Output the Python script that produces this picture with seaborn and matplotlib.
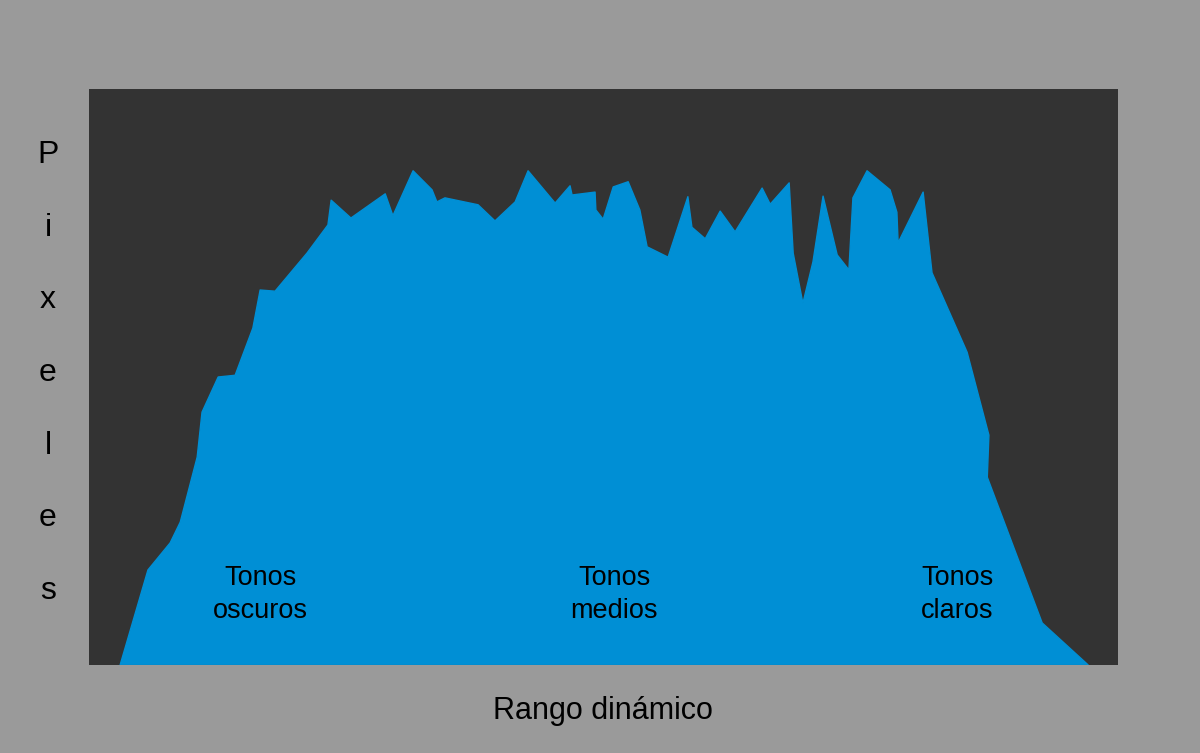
import matplotlib
matplotlib.use("Agg")
import matplotlib.pyplot as plt
import numpy as np
import pandas as pd
import seaborn as sns

# Outline of the histogram (tone 0-255, height in % of plot)
tones = [7.7, 14.6, 20.1, 22.6, 26.8, 28.0, 32.0, 36.2, 40.6, 42.4, 46.1, 54.0,
         59.2, 60.0, 64.9, 73.4, 75.3, 80.3, 85.0, 86.2, 88.2, 96.4, 100.6,
         105.6, 108.8, 115.5, 119.2, 119.7, 125.4, 125.6, 127.4, 129.9, 133.6,
         136.5, 138.3, 143.5, 148.4, 149.4, 152.7, 156.4, 160.1, 166.8, 168.8,
         173.5, 174.5, 176.9, 179.4, 181.9, 185.4, 188.3, 189.3, 192.8, 198.5,
         200.2, 200.5, 206.7, 208.9, 217.6, 223.0, 222.6, 236.2, 247.6]
counts = [0.0, 16.5, 21.2, 24.8, 36.1, 43.9, 50.0, 50.3, 58.5, 65.1, 64.9, 71.5,
          76.4, 80.7, 77.6, 81.8, 78.0, 85.8, 82.5, 80.4, 81.1, 79.9, 77.1,
          80.4, 85.8, 80.2, 83.2, 81.6, 82.1, 79.0, 77.4, 83.0, 83.9,
          79.0, 72.6, 70.8, 81.3, 76.0, 74.0, 78.8, 75.2, 82.8, 80.0,
          83.7, 71.5, 62.8, 70.0, 81.4, 71.2, 68.6, 81.1, 85.8, 82.5,
          78.6, 73.3, 82.1, 68.1, 54.3, 39.9, 32.6, 7.3, 0.0]

zone_labels = ["Tonos\noscuros", "Tonos\nmedios", "Tonos\nclaros"]
zone_x = [42.4, 130.1, 215.1]
zone_y = [12.2, 12.2, 12.2]

x_title = "Rango dinámico"
y_title = "Pixeles"

FIG_BG = "#9a9a9a"
AX_BG = "#333333"
FILL = "#008fd5"


def main():
    sns.set_theme(style="white")
    plt.rcParams["font.family"] = ["Liberation Sans", "DejaVu Sans"]

    df = pd.DataFrame({"tone": tones, "count": counts})

    fig = plt.figure(figsize=(12, 7.53), dpi=100, facecolor=FIG_BG)
    ax = fig.add_axes([0.0742, 0.1169, 0.8575, 0.7649])
    ax.set_facecolor(AX_BG)

    ax.fill(df["tone"], df["count"], color=FILL, linewidth=0)
    sns.lineplot(x="tone", y="count", data=df, sort=False, color=FILL,
                 linewidth=1, ax=ax)

    for lab, x, y in zip(zone_labels, zone_x, zone_y):
        ax.text(x, y, lab, ha="center", va="center", fontsize=19.5,
                color="black", linespacing=1.33)

    ax.set_xlim(0, 255)
    ax.set_ylim(0, 100)
    ax.set_xticks([])
    ax.set_yticks([])
    ax.set_xlabel("")
    ax.set_ylabel("")
    for s in ax.spines.values():
        s.set_visible(False)

    fig.text(0.5025, 0.056, x_title, ha="center", va="center",
             fontsize=22, color="black")

    # vertical, letter-by-letter axis title
    letter_y = np.linspace(0.794, 0.215, len(y_title))
    for ch, yy in zip(y_title, letter_y):
        fig.text(0.040, yy, ch, ha="center", va="center", fontsize=23,
                 color="black")

    fig.savefig("out.png", dpi=100, facecolor=FIG_BG)


if __name__ == "__main__":
    main()
